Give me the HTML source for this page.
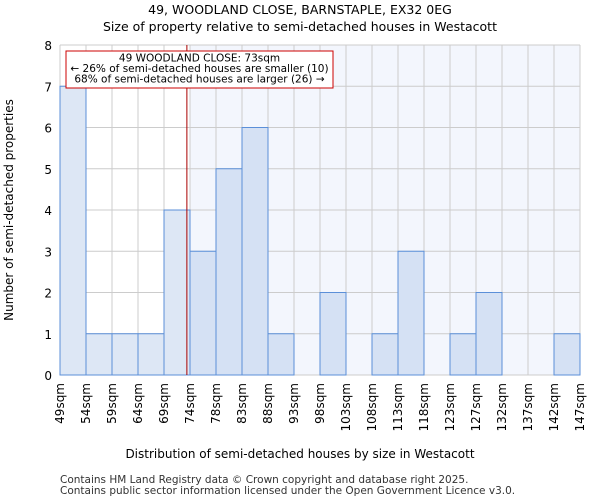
<!DOCTYPE html>
<html><head><meta charset="utf-8"><style>
body{margin:0;background:#fff;font-family:"DejaVu Sans","Liberation Sans",sans-serif;}
</style></head><body>
<svg width="600" height="500" font-family="DejaVu Sans, Liberation Sans, sans-serif">
<text x="300" y="14" text-anchor="middle" font-size="12.5">49, WOODLAND CLOSE, BARNSTAPLE, EX32 0EG</text>
<text x="300" y="31" text-anchor="middle" font-size="12.5">Size of property relative to semi-detached houses in Westacott</text>
<g id="plot"></g>
<text x="300" y="458" text-anchor="middle" font-size="12">Distribution of semi-detached houses by size in Westacott</text>
<text transform="translate(13,210) rotate(-90)" text-anchor="middle" font-size="12">Number of semi-detached properties</text>
<text x="60" y="483" font-size="10.5" fill="#333">Contains HM Land Registry data © Crown copyright and database right 2025.</text>
<text x="60" y="494" font-size="10.5" fill="#333">Contains public sector information licensed under the Open Government Licence v3.0.</text>
</svg>
<script>
const categories=["49sqm","54sqm","59sqm","64sqm","69sqm","74sqm","78sqm","83sqm","88sqm","93sqm","98sqm","103sqm","108sqm","113sqm","118sqm","123sqm","127sqm","132sqm","137sqm","142sqm","147sqm"];
const counts=[7,1,1,1,4,3,5,6,1,0,2,0,1,3,0,1,2,0,0,1];
const yTicks=[0,1,2,3,4,5,6,7,8];
const markerBin=4.88;
const ns="http://www.w3.org/2000/svg";
const g=document.getElementById('plot');
const L=60,R=580,T=45,B=375,n=counts.length,bw=(R-L)/n;
const x=i=>L+i*bw, y=v=>B-(v/8)*(B-T);
function mk(t,a,p){const e=document.createElementNS(ns,t);for(const k in a)e.setAttribute(k,a[k]);(p||g).appendChild(e);return e;}
const mx=x(markerBin);
const bg=mk('rect',{x:x(5),y:T,width:R-x(5),height:B-T,fill:'#f3f6fd'});


for(let i=0;i<=n;i++){const l=mk('line',{x1:x(i),x2:x(i),y1:T,y2:B,stroke:'#ccc'});

}
yTicks.forEach(v=>{const l=mk('line',{x1:L,x2:R,y1:y(v),y2:y(v),stroke:'#ccc'});


const t=mk('text',{x:L-8,y:y(v)+5,'text-anchor':'end','font-size':12});t.textContent=v;

});
counts.forEach((c,i)=>{if(!c)return;const r=mk('rect',{x:x(i),y:y(c),width:bw,height:B-y(c),fill:i<5?'#dde7f5':'#d5e1f4',stroke:'#5b8fd8','stroke-width':1});

});
categories.forEach((c,i)=>{const t=mk('text',{transform:`translate(${x(i)+4},${B+8}) rotate(-90)`,'text-anchor':'end','font-size':12});t.textContent=c;

});
const m=mk('line',{x1:mx,x2:mx,y1:T,y2:B,stroke:'#a00','stroke-width':1});


const box=mk('rect',{x:66,y:51,width:267,height:37,fill:'#fff',stroke:'#c00','stroke-width':1});


["49 WOODLAND CLOSE: 73sqm","← 26% of semi-detached houses are smaller (10)","68% of semi-detached houses are larger (26) →"].forEach((s,k)=>{const t=mk('text',{x:199.5,y:61.5+k*10.5,'text-anchor':'middle','font-size':10.5});t.textContent=s;

});
</script>
</body></html>
